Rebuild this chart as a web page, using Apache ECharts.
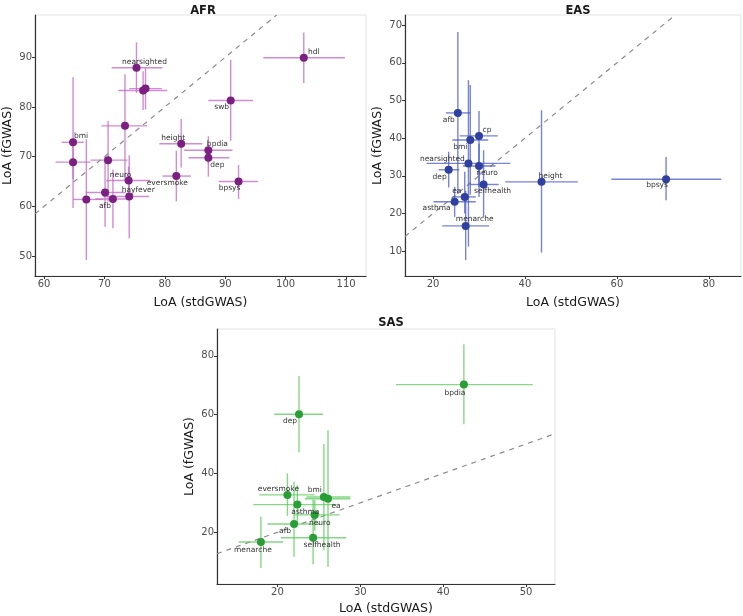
<!DOCTYPE html>
<html>
<head>
<meta charset="utf-8">
<script src="https://cdn.jsdelivr.net/npm/echarts@6/dist/echarts.min.js"></script>
<style>
  html, body {margin: 0; padding: 0; background: #fff;}
  #chart {width: 743px; height: 616px;}
</style>
</head>
<body>
<div id="chart"></div>
<script>
// AFR
const afrNames = ['hdl', 'nearsighted', '', '', '', 'bmi', '', '', '', 'afb', '', 'neuro', 'hayfever', 'height', 'eversmoke', 'bpdia', 'dep', 'swb', 'bpsys'];
const afrX   = [103.0, 75.3, 76.4, 76.8, 73.4, 64.8, 64.8, 70.6, 70.1, 71.4, 67.0, 74.0, 74.1, 82.7, 81.9, 87.2, 87.2, 90.9, 92.2];
const afrY   = [89.9, 87.9, 83.3, 83.7, 76.2, 72.9, 68.9, 69.3, 62.8, 61.5, 61.4, 65.2, 62.0, 72.6, 66.1, 71.3, 69.8, 81.3, 65.0];
const afrXLo = [96.3, 71.2, 72.3, 74.1, 69.5, 62.9, 61.9, 67.7, 66.9, 68.5, 64.8, 70.3, 69.8, 79.1, 79.6, 83.2, 83.9, 87.2, 88.9];
const afrXHi = [109.8, 79.6, 80.4, 79.5, 77.1, 66.6, 67.7, 73.8, 73.5, 74.5, 69.8, 77.6, 77.4, 86.2, 84.3, 91.2, 90.7, 94.6, 95.4];
const afrYLo = [84.8, 82.8, 79.4, 79.5, 65.3, 59.7, 65.5, 61.0, 55.9, 55.6, 49.2, 61.9, 53.6, 67.8, 61.0, 68.5, 66.0, 73.2, 61.5];
const afrYHi = [95.0, 93.0, 87.2, 87.8, 86.6, 86.0, 72.5, 77.2, 70.0, 67.4, 73.5, 68.0, 70.3, 77.6, 71.2, 74.1, 72.6, 89.5, 68.3];

// EAS
const easNames = ['afb', 'cp', 'bmi', 'nearsighted', 'neuro', 'dep', 'selfhealth', 'ea', 'asthma', 'menarche', 'height', 'bpsys'];
const easX   = [25.4, 30.0, 28.1, 27.7, 30.0, 23.4, 31.0, 26.9, 24.7, 27.1, 43.6, 70.7];
const easY   = [46.7, 40.6, 39.5, 33.3, 32.6, 31.6, 27.7, 24.4, 23.1, 16.7, 28.4, 29.1];
const easXLo = [22.8, 25.8, 24.2, 18.6, 26.5, 21.2, 28.0, 24.2, 20.1, 22.0, 35.7, 58.8];
const easXHi = [28.1, 34.1, 32.0, 36.8, 33.6, 25.7, 34.3, 29.3, 29.3, 32.2, 51.5, 82.7];
const easYLo = [25.2, 24.4, 25.0, 11.2, 27.0, 26.9, 19.1, 20.0, 19.1, 7.6, 9.6, 23.5];
const easYHi = [68.2, 47.2, 54.1, 55.4, 38.5, 36.4, 36.8, 31.1, 27.1, 26.0, 47.4, 35.0];

// SAS
const sasNames = ['bpdia', 'dep', 'eversmoke', 'bmi', 'ea', 'asthma', 'neuro', 'afb', 'selfhealth', 'menarche'];
const sasX   = [42.5, 22.6, 21.2, 25.6, 26.1, 22.4, 24.5, 22.0, 24.3, 18.0];
const sasY   = [70.2, 60.1, 32.7, 32.0, 31.4, 29.4, 25.9, 22.8, 18.1, 16.7];
const sasXLo = [34.3, 19.6, 17.8, 23.5, 23.3, 17.1, 22.0, 18.8, 20.4, 15.3];
const sasXHi = [50.8, 25.5, 24.5, 28.8, 28.8, 27.1, 27.5, 25.1, 28.3, 20.7];
const sasYLo = [56.7, 47.2, 25.6, 13.9, 8.3, 23.0, 20.5, 11.7, 9.1, 7.8];
const sasYHi = [83.9, 73.1, 40.0, 50.0, 54.7, 36.0, 31.0, 37.2, 31.1, 25.3];

// tick labels
const afrXTicks = [60, 70, 80, 90, 100, 110];
const afrYTicks = [50, 60, 70, 80, 90];
const easXTicks = [20, 40, 60, 80];
const easYTicks = [10, 20, 30, 40, 50, 60, 70];
const sasXTicks = [20, 30, 40, 50];
const sasYTicks = [20, 40, 60, 80];

// label nudges (px) like ggrepel placed them
const afrLabelOffset = {
    hdl: [10, -6], nearsighted: [8, -6], swb: [-9, 7], bmi: [8, -6], height: [-8, -6],
    bpdia: [9, -6], dep: [9, 7], neuro: [-8, -6], eversmoke: [-9, 7], hayfever: [9, -6],
    afb: [-8, 7], bpsys: [-9, 7]
};
const easLabelOffset = {
    afb: [-9, 7], cp: [8, -6], bmi: [-10, 7], nearsighted: [-26, -4], dep: [-9, 7],
    neuro: [8, 7], selfhealth: [9, 7], ea: [-8, -6], asthma: [-18, 6], menarche: [9, -7],
    height: [9, -6], bpsys: [-9, 6]
};
const sasLabelOffset = {
    bpdia: [-9, 8], dep: [-9, 7], eversmoke: [-9, -6], bmi: [-9, -7], ea: [8, 7],
    asthma: [8, 7], neuro: [5, 8], afb: [-9, 7], selfhealth: [9, 7], menarche: [-8, 8]
};

const FONT = 'DejaVu Sans';

function axisPair(gi, xr, yr, xt, yt) {
    const common = {
        gridIndex: gi, type: 'value', splitLine: {show: false},
        axisLine: {show: true, onZero: false, lineStyle: {color: '#333', width: 1.2}},
        nameLocation: 'middle',
        nameTextStyle: {fontSize: 12.5, color: '#1a1a1a', fontFamily: FONT}
    };
    const x = Object.assign({}, common, {
        min: xr[0], max: xr[1], name: 'LoA (stdGWAS)', nameGap: gi === 2 ? 18 : 20,
        axisTick: {show: true, length: 3, customValues: xt, lineStyle: {color: '#333'}},
        axisLabel: {customValues: xt, color: '#4d4d4d', fontSize: 10, margin: 3, fontFamily: FONT}
    });
    const y = Object.assign({}, common, {
        min: yr[0], max: yr[1], name: 'LoA (fGWAS)', nameGap: 21,
        axisTick: {show: true, length: 3, customValues: yt, lineStyle: {color: '#333'}},
        axisLabel: {customValues: yt, color: '#4d4d4d', fontSize: 10, margin: 3, fontFamily: FONT}
    });
    return [x, y];
}

function panelSeries(gi, names, xs, ys, xlo, xhi, ylo, yhi, offsets, ptColor, barColor, xr, yr) {
    const lo = Math.max(xr[0], yr[0]);
    const hi = Math.min(xr[1], yr[1]);
    return [
        {
            type: 'line', xAxisIndex: gi, yAxisIndex: gi, silent: true, symbol: 'none',
            data: [[lo, lo], [hi, hi]],
            lineStyle: {color: '#8c8c8c', type: [5, 5], width: 1.2}, z: 1
        },
        {
            type: 'custom', xAxisIndex: gi, yAxisIndex: gi, silent: true, z: 2,
            data: xs.map((x, i) => [x, ys[i], xlo[i], xhi[i], ylo[i], yhi[i]]),
            renderItem(params, api) {
                const l = api.coord([api.value(2), api.value(1)]);
                const r = api.coord([api.value(3), api.value(1)]);
                const b = api.coord([api.value(0), api.value(4)]);
                const t = api.coord([api.value(0), api.value(5)]);
                const st = {stroke: barColor, lineWidth: 1.4, opacity: 0.75};
                return {
                    type: 'group', children: [
                        {type: 'line', shape: {x1: l[0], y1: l[1], x2: r[0], y2: r[1]}, style: st},
                        {type: 'line', shape: {x1: b[0], y1: b[1], x2: t[0], y2: t[1]}, style: st}
                    ]
                };
            }
        },
        {
            type: 'scatter', xAxisIndex: gi, yAxisIndex: gi, symbolSize: 8, z: 3,
            itemStyle: {color: ptColor, opacity: 1},
            label: {
                show: true, position: 'inside', fontSize: 7.5, color: '#333', fontFamily: FONT,
                formatter: p => p.name
            },
            labelLayout(p) {
                const off = offsets[names[p.dataIndex]] || [0, 0];
                return {dx: off[0], dy: off[1], hideOverlap: false};
            },
            data: xs.map((x, i) => ({
                value: [x, ys[i]], name: names[i],
                label: {show: !!offsets[names[i]]}
            }))
        }
    ];
}

const afrR = [[58.5, 113.3], [46.0, 98.5]];
const easR = [[13.9, 87.0], [3.4, 72.7]];
const sasR = [[12.7, 53.5], [2.4, 89.1]];

const a0 = axisPair(0, afrR[0], afrR[1], afrXTicks, afrYTicks);
const a1 = axisPair(1, easR[0], easR[1], easXTicks, easYTicks);
const a2 = axisPair(2, sasR[0], sasR[1], sasXTicks, sasYTicks);

const titleStyle = {fontSize: 11.5, fontWeight: 'bold', color: '#1a1a1a', fontFamily: FONT};

const chart = echarts.init(document.getElementById('chart'));
chart.setOption({
    animation: false,
    backgroundColor: '#fff',
    title: [
        {text: 'AFR', left: 198, top: 0, textAlign: 'center', textStyle: titleStyle},
        {text: 'EAS', left: 573, top: 0, textAlign: 'center', textStyle: titleStyle},
        {text: 'SAS', left: 386, top: 312, textAlign: 'center', textStyle: titleStyle}
    ],
    grid: [
        {left: 29, top: 15, width: 337, height: 261, show: true, borderColor: '#e3e3e3', borderWidth: 1},
        {left: 405, top: 15, width: 336, height: 261, show: true, borderColor: '#e3e3e3', borderWidth: 1},
        {left: 217, top: 329, width: 338, height: 260, show: true, borderColor: '#e3e3e3', borderWidth: 1}
    ],
    xAxis: [a0[0], a1[0], a2[0]],
    yAxis: [a0[1], a1[1], a2[1]],
    series: [].concat(
        panelSeries(0, afrNames, afrX, afrY, afrXLo, afrXHi, afrYLo, afrYHi, afrLabelOffset, '#7b1f80', '#c264c4', afrR[0], afrR[1]),
        panelSeries(1, easNames, easX, easY, easXLo, easXHi, easYLo, easYHi, easLabelOffset, '#2f40a0', '#4a5ac4', easR[0], easR[1]),
        panelSeries(2, sasNames, sasX, sasY, sasXLo, sasXHi, sasYLo, sasYHi, sasLabelOffset, '#2a9e36', '#5cc95c', sasR[0], sasR[1])
    )
});
</script>
</body>
</html>
